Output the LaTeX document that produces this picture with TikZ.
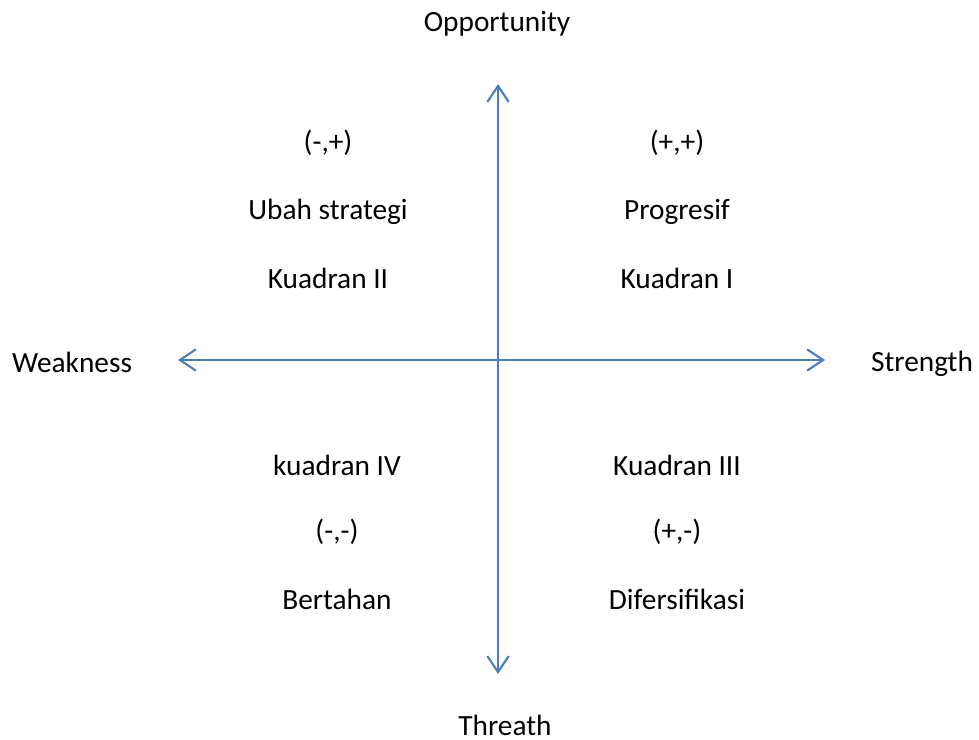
\documentclass[tikz,border=0pt]{standalone}
\usepackage{fontspec}
\setmainfont{Carlito}
\usetikzlibrary{arrows.meta}
\definecolor{ejebiru}{HTML}{4A7EBB}
\begin{document}
\begin{tikzpicture}[x=0.375pt,y=-0.375pt,
    font=\fontsize{11}{13}\selectfont,
    label/.style={inner sep=0pt},
    sumbu/.style={ejebiru, line width=0.8pt, {Straight Barb[length=6pt,width=8pt]}-{Straight Barb[length=6pt,width=8pt]}}]
    % Marco del dibujo
    \useasboundingbox (0,0) rectangle (979,740);

    % Extremos de los ejes
    \coordinate (kiri) at (178,360);
    \coordinate (kanan) at (825,360);
    \coordinate (atas) at (498,84);
    \coordinate (bawah) at (498,674);

    % Dibujar los ejes
    \draw[sumbu] (kiri) -- (kanan);
    \draw[sumbu] (bawah) -- (atas);

    % Etiquetas de los ejes
    \node[label] (opp) at (497,24) {Opportunity};
    \node[label] (thr) at (505,725) {Threath};
    \node[label] (weak) at (72,362) {Weakness};
    \node[label] (str) at (922,364) {Strength};

    % Cuadrante II
    \node[label] (tandaII) at (328,143) {(-,+)};
    \node[label] (ubah) at (328,212) {Ubah strategi};
    \node[label] (kuadII) at (328,278) {Kuadran II};

    % Cuadrante I
    \node[label] (tandaI) at (677,143) {(+,+)};
    \node[label] (prog) at (677,212) {Progresif};
    \node[label] (kuadI) at (677,278) {Kuadran I};

    % Cuadrante IV
    \node[label] (kuadIV) at (337,465) {kuadran IV};
    \node[label] (tandaIV) at (337,532) {(-,-)};
    \node[label] (bert) at (337,599) {Bertahan};

    % Cuadrante III
    \node[label] (kuadIII) at (677,465) {Kuadran III};
    \node[label] (tandaIII) at (677,532) {(+,-)};
    \node[label] (difer) at (677,599) {Difersifikasi};
\end{tikzpicture}
\end{document}
